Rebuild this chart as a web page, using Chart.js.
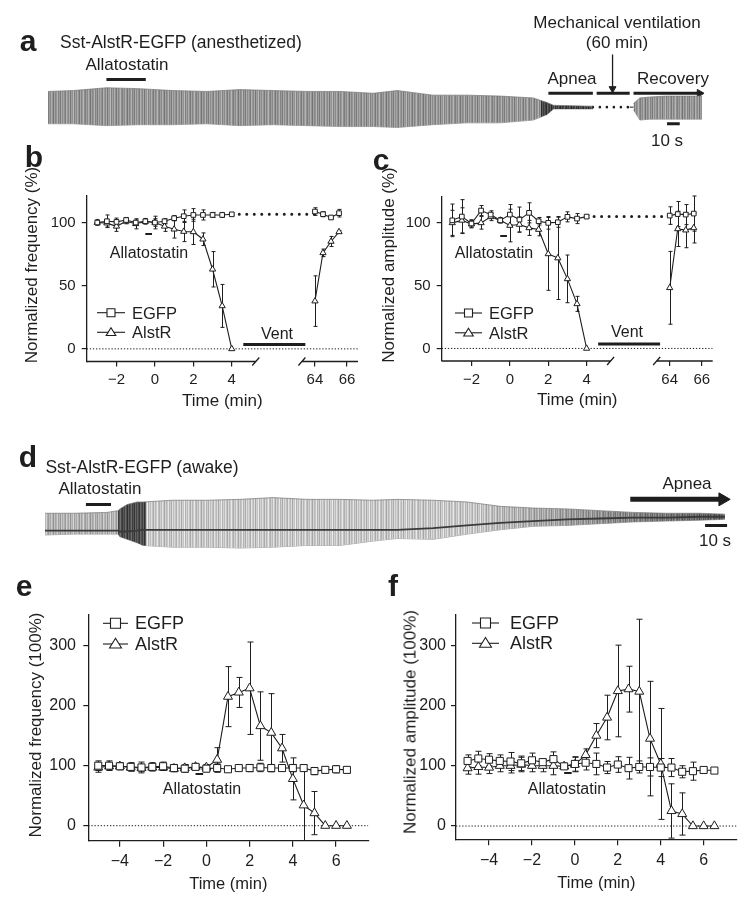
<!DOCTYPE html>
<html><head><meta charset="utf-8">
<script src="https://cdn.jsdelivr.net/npm/chart.js@4.4.1/dist/chart.umd.min.js"></script>
<style>
html,body{margin:0;padding:0;background:#fff}
body{position:relative;width:750px;height:906px;overflow:hidden;font-family:"Liberation Sans",Arial,Helvetica,sans-serif;color:#1e1e1e}
canvas{position:absolute}
.c{position:absolute;white-space:nowrap;line-height:1;transform:translate(-50%,-50%)}
.l{position:absolute;white-space:nowrap;line-height:1;transform:translate(0,-50%)}
.r{position:absolute;white-space:nowrap;line-height:1;transform:translate(-50%,-50%) rotate(-90deg)}
.p{font-weight:bold;font-size:30px}
</style></head><body>
<canvas id="cvA" width="750" height="145" style="left:0;top:0"></canvas>
<canvas id="cvB" width="375" height="300" style="left:0;top:145px"></canvas>
<canvas id="cvC" width="375" height="300" style="left:375px;top:145px"></canvas>
<canvas id="cvD" width="750" height="130" style="left:0;top:450px"></canvas>
<canvas id="cvE" width="375" height="316" style="left:0;top:590px"></canvas>
<canvas id="cvF" width="375" height="316" style="left:375px;top:590px"></canvas>

<!-- panel a texts -->
<div class="c p" style="left:28px;top:41px">a</div>
<div class="c" style="left:181px;top:43px;font-size:17.5px">Sst-AlstR-EGFP (anesthetized)</div>
<div class="c" style="left:617px;top:22px;font-size:17px">Mechanical ventilation</div>
<div class="c" style="left:617px;top:42px;font-size:17px">(60 min)</div>
<div class="c" style="left:127px;top:64px;font-size:17px">Allatostatin</div>
<div class="c" style="left:572px;top:78px;font-size:17px">Apnea</div>
<div class="c" style="left:673px;top:78px;font-size:17px">Recovery</div>
<div class="c" style="left:667px;top:140px;font-size:17px">10 s</div>
<!-- panel b texts -->
<div class="c p" style="left:34px;top:157px">b</div>
<div class="r" style="left:31px;top:265px;font-size:17px">Normalized frequency (%)</div>
<div class="c" style="left:149px;top:253px;font-size:16px">Allatostatin</div>
<div class="c" style="left:277px;top:334px;font-size:16px">Vent</div>
<div class="l" style="left:132px;top:313px;font-size:16.5px">EGFP</div>
<div class="l" style="left:132px;top:332px;font-size:16.5px">AlstR</div>
<!-- panel c texts -->
<div class="c p" style="left:381px;top:160px">c</div>
<div class="r" style="left:388px;top:265px;font-size:17px">Normalized amplitude (%)</div>
<div class="c" style="left:494px;top:253px;font-size:16px">Allatostatin</div>
<div class="c" style="left:627px;top:332px;font-size:16px">Vent</div>
<div class="l" style="left:489px;top:313px;font-size:16.5px">EGFP</div>
<div class="l" style="left:489px;top:333px;font-size:16.5px">AlstR</div>
<!-- panel d texts -->
<div class="c p" style="left:28px;top:457px">d</div>
<div class="c" style="left:142px;top:468px;font-size:17.5px">Sst-AlstR-EGFP (awake)</div>
<div class="c" style="left:100px;top:488px;font-size:17px">Allatostatin</div>
<div class="c" style="left:687px;top:483px;font-size:17px">Apnea</div>
<div class="c" style="left:715px;top:540px;font-size:17px">10 s</div>
<!-- panel e texts -->
<div class="c p" style="left:24px;top:586px">e</div>
<div class="r" style="left:35px;top:725px;font-size:17px">Normalized frequency (100%)</div>
<div class="c" style="left:202px;top:789px;font-size:16px">Allatostatin</div>
<div class="l" style="left:135px;top:623px;font-size:18px">EGFP</div>
<div class="l" style="left:135px;top:644px;font-size:18px">AlstR</div>
<!-- panel f texts -->
<div class="c p" style="left:393px;top:586px">f</div>
<div class="r" style="left:410px;top:722px;font-size:17px">Normalized amplitude (100%)</div>
<div class="c" style="left:567px;top:789px;font-size:16px">Allatostatin</div>
<div class="l" style="left:510px;top:623px;font-size:18px">EGFP</div>
<div class="l" style="left:510px;top:643px;font-size:18px">AlstR</div>

<script>
// ================= DATA =================
// Panels b, c (anesthetized): time in min
const bcTime = [-3,-2.5,-2,-1.5,-1,-0.5,0,0.5,1,1.5,2,2.5,3,3.5,4,64,64.5,65,65.5];
const bcXTicks = [-2,0,2,4,64,66];
const bcYTicks = [0,50,100];
const bEGFP    = [100,101,100.5,102,100,101,100,101,103.4,105,106,106,106,106,106.5,108.7,106.6,104,107.4];
const bEGFPErr = [2,5,3,2,2,2,5,2,2,5,5,4,2,2,1,3,2,1,3];
const bAlstR    = [100,99.5,97,101,99,100.8,100,97,94.7,92.9,92.6,86.8,63,34,0,37.8,76,85,92.6];
const bAlstRErr = [2,3,4,2,4,2,3,4,7,8,10,5,14,17,0,20,3,4,1];
const cEGFP    = [102,105,99.5,109.8,106.6,102,106.6,102.6,108,101.3,100,100.5,104.8,103.4,105,105.8,107,106.6,107.4];
const cEGFPErr = [13,13.5,3,4,3,2,8,10,8,3,5,4,4,4,1,7,10,8,14];
const cAlstR    = [100,102,99,100,104.8,102,97.9,98.7,96,94.7,75.3,72,55.4,35.5,0,48.3,95.2,94.2,96];
const cAlstRErr = [10,10,3,5,3,2,13,6,6,5,29,33,19,6,0,29,14,14,12];
const bcAllatostatin = [-0.5,-0.15];
const bcVent = [4.6,63.4];

// Panels e, f (awake)
const efTime = [-5,-4.5,-4,-3.5,-3,-2.5,-2,-1.5,-1,-0.5,0,0.5,1,1.5,2,2.5,3,3.5,4,4.5,5,5.5,6,6.5];
const efXTicks = [-4,-2,0,2,4,6];
const efYTicks = [0,100,200,300];
const eEGFP    = [100,100,99,98,97,98,99,96,95,98,95,96,94,96,96,97,96,96,96,96,91,93,94,93];
const eEGFPErr = [8,8,6,7,9,7,7,6,6,4,5,7,3,3,6,7,6,5,6,5,6,5,6,5];
const eAlstR    = [97,99,99,97,96,97,97,95,96,98,97,110,215,222,229,166,155,129,78,34,21,0,0,0];
const eAlstRErr = [8,6,5,6,5,4,5,5,6,3,5,20,50,25,77,57,65,23,35,60,36,0,0,0];
const fEGFP    = [108,112,110,108,107,104,109,106,111,99,103,105,103,97,102,96,98,98,97,97,90,91,93,92];
const fEGFPErr = [10,12,10,10,15,12,12,5,12,3,12,12,18,10,13,18,10,15,15,15,10,15,3,3];
const fAlstR    = [96,98,97,100,100,102,100,100,100,99,102,118,150,180,224,227,223,145,103,25,20,0,0,0];
const fAlstRErr = [10,12,10,10,12,12,10,10,15,3,12,10,20,37,76,38,120,95,92,45,35,0,0,0];
const efAllatostatin = [-0.5,-0.15];

// Trace a (anesthetized): time in s, signal in a.u.
const aTime  = [0,20,46,72,98,125,151,177,204,230,256,275,303,330,356,382,393,398,429];
const aUpper = [17,18,21,20,18,17,19,18,17,17,15,18,13,13,12,10,5,2,1];
const aLower = [-18,-18,-20,-19,-19,-18,-20,-19,-20,-21,-21,-22,-19,-17,-17,-14,-8,-2,-2];
const aRecTime  = [461,466,474,487,515];
const aRecUpper = [4,10,11,12,12];
const aRecLower = [-3,-14,-13,-13,-13];
const aVentGap = [429,458];
const aAllatostatin = [46,77];
const aApnea = [394,429];
const aVent = [432,458];
const aRecovery = [461,513];
const aVentOnset = 444.5;
const aScaleBar = [487.4,497.4];

// Trace d (awake)
const dTime  = [0,12.7,28.2,33.2,34,37.3,41.8,44.5,58.2,73.6,88.6,103.6,119,134,149,160,176.4,191.8,206.8,221.8,237.3,252.3,267.3,282.7,297.7,309];
const dUpper = [12,12,13,15,17,22,25,25,27,27,28,30,28,28,27,28,27,25,20,18,17,15,13,12,12,11];
const dLower = [-13,-12,-12,-12,-15,-18,-22,-25,-27,-27,-28,-27,-25,-25,-20,-17,-18,-12,-7,-3,-2,0,2,3,4,5];
const dBase  = [-8,-8,-8,-8,-9,-9,-8,-7,-7,-7,-7,-7,-7,-7,-7,-7,-5,-2,1,3,5,6,7,7,8,8];
const dAllatostatin = [18.6,30];
const dApnea = [266,308];
const dScaleBar = [300,310];

// ================= HELPERS =================
const F = '"Liberation Sans", Arial, Helvetica, sans-serif';
const INK = '#1e1e1e';
const BRK_SHIFT = 8.33, BRK_SCALE = 0.835;
const brk = t => t <= 10 ? t : BRK_SHIFT + (t - 64) * BRK_SCALE;
const fmt = t => t < 0 ? '\u2212' + Math.abs(t) : String(t);
const pts = (xs, ys, fx) => xs.map((x,i) => ({x: fx ? fx(x) : x, y: ys[i]}));

const errBars = {
  id:'errBars',
  beforeDatasetsDraw(chart, args, o){
    const {ctx, chartArea:a} = chart, ys = chart.scales.y;
    ctx.save(); ctx.beginPath(); ctx.rect(a.left-5, a.top-20, a.right-a.left+10, a.bottom-a.top+20); ctx.clip();
    ctx.strokeStyle = INK; ctx.lineWidth = 1;
    const cap = o.cap || 4;
    chart.data.datasets.forEach((ds,i) => {
      if (!ds.errors) return;
      chart.getDatasetMeta(i).data.forEach((el,j) => {
        const e = ds.errors[j]; if (!e) return;
        const v = ds.data[j].y;
        const y1 = ys.getPixelForValue(v+e), y2 = ys.getPixelForValue(v-e);
        const x = Math.round(el.x)+0.5;
        ctx.beginPath();
        ctx.moveTo(x,y1); ctx.lineTo(x,y2);
        ctx.moveTo(x-cap/2,y1); ctx.lineTo(x+cap/2,y1);
        ctx.moveTo(x-cap/2,y2); ctx.lineTo(x+cap/2,y2);
        ctx.stroke();
      });
    });
    ctx.restore();
  }
};
const brokenAxis = {
  id:'brokenAxis',
  afterDatasetsDraw(chart, args, o){
    if (o.from === undefined) return;
    const xs = chart.scales.x, y = chart.chartArea.bottom, ctx = chart.ctx;
    const p1 = xs.getPixelForValue(o.from), p2 = xs.getPixelForValue(o.to);
    ctx.save(); ctx.strokeStyle = INK; ctx.lineWidth = 1.3;
    ctx.beginPath();
    ctx.moveTo(xs.left,y); ctx.lineTo(p1,y);
    ctx.moveTo(p2,y); ctx.lineTo(xs.right,y);
    ctx.moveTo(p1-3.5,y+4); ctx.lineTo(p1+3.5,y-4);
    ctx.moveTo(p2-3.5,y+4); ctx.lineTo(p2+3.5,y-4);
    ctx.stroke(); ctx.restore();
  }
};
const legendSym = {
  id:'legendSym',
  afterDraw(chart, args, o){
    if (!o.items) return;
    const ctx = chart.ctx;
    o.items.forEach(it => {
      ctx.save(); ctx.strokeStyle = INK; ctx.lineWidth = 1.1;
      ctx.beginPath(); ctx.moveTo(it.x1,it.y); ctx.lineTo(it.x2,it.y); ctx.stroke();
      const cx = (it.x1+it.x2)/2, r = it.r;
      ctx.fillStyle = '#fff'; ctx.beginPath();
      if (it.shape === 'rect') ctx.rect(cx-r, it.y-r, 2*r, 2*r);
      else { ctx.moveTo(cx, it.y-r*1.15); ctx.lineTo(cx+r*1.2, it.y+r*0.8); ctx.lineTo(cx-r*1.2, it.y+r*0.8); ctx.closePath(); }
      ctx.fill(); ctx.stroke(); ctx.restore();
    });
  }
};
Chart.register(errBars, brokenAxis, legendSym);

const gapSeg = {borderColor: c => (c.p0.parsed.x < 5 && c.p1.parsed.x > 5) ? 'rgba(0,0,0,0)' : undefined};
function series(label, data, errors, style, r){
  return {label, data, errors, pointStyle: style, pointRadius: r, pointBackgroundColor:'#fff',
    pointBorderColor: INK, pointBorderWidth: 1, borderColor: INK, borderWidth: 1.1, segment: gapSeg};
}
function plain(data, extra){
  return Object.assign({data, borderColor: INK, borderWidth: 1, pointRadius: 0, fill: false}, extra);
}

// ================= PANELS b, c =================
function bcChart(id, egfp, egfpErr, alstr, alstrErr, g){
  const X_MIN = -3.55, X_MAX = 10.57;
  new Chart(document.getElementById(id), {
    type:'line',
    data:{datasets:[
      series('EGFP', pts(bcTime, egfp, brk), egfpErr, 'rect', 3.3),
      series('AlstR', pts(bcTime, alstr, brk), alstrErr, 'triangle', 3.6),
      plain([{x:brk(4), y:egfp[14]}, {x:brk(64), y:egfp[14]}], {borderWidth:3, borderDash:[0,7.5], borderCapStyle:'round'}),
      plain(bcAllatostatin.map(t => ({x:t, y:g.allaY})), {borderWidth:2}),
      plain(bcVent.map(t => ({x:brk(t), y:3.5})), {borderWidth:3}),
      plain([{x:X_MIN, y:0}, {x:X_MAX, y:0}], {borderWidth:1, borderDash:[1.3,1.8]})
    ]},
    options:{
      responsive:false, animation:false, events:[], devicePixelRatio:1,
      layout:{padding:{left:0, top:g.top, right:g.right, bottom:g.bottom}},
      scales:{
        x:{type:'linear', min:X_MIN, max:X_MAX,
          afterFit: s => { s.height = 60; },
          afterBuildTicks: s => { s.ticks = bcXTicks.map(t => ({value: brk(t)})); },
          ticks:{font:{size:15, family:F}, color:INK, padding:4.5, maxRotation:0, autoSkip:false,
                 callback:(v,i) => fmt(bcXTicks[i])},
          grid:{drawOnChartArea:false, color:INK, lineWidth:1.2, tickLength:5},
          border:{display:false},
          title:{display:true, text:'Time (min)', font:{size:17, family:F}, color:INK, padding:{top:0, bottom:10}}},
        y:{type:'linear', min:-10, max:121,
          afterFit: s => { s.width = g.yw; },
          afterBuildTicks: s => { s.ticks = bcYTicks.map(v => ({value:v})); },
          ticks:{font:{size:15, family:F}, color:INK, padding:6},
          grid:{drawOnChartArea:false, color:INK, lineWidth:1.2, tickLength:5},
          border:{display:true, color:INK, width:1.3}}
      },
      plugins:{legend:{display:false}, tooltip:{enabled:false},
        errBars:{cap:4}, brokenAxis:{from:5.25, to:7.65},
        legendSym:{items:g.legend}}
    }
  });
}
bcChart('cvB', bEGFP, bEGFPErr, bAlstR, bAlstRErr,
  {top:51, right:17, bottom:23.5, yw:86.7, allaY:91,
   legend:[{x1:97, x2:125, y:167.7, r:4, shape:'rect'}, {x1:97, x2:125, y:187.3, r:4, shape:'tri'}]});
bcChart('cvC', cEGFP, cEGFPErr, cAlstR, cAlstRErr,
  {top:51.5, right:37.3, bottom:24, yw:66.7, allaY:89.5,
   legend:[{x1:80, x2:107, y:168, r:4, shape:'rect'}, {x1:80, x2:107, y:187.8, r:4, shape:'tri'}]});

// ================= PANELS e, f =================
function efChart(id, egfp, egfpErr, alstr, alstrErr, g){
  new Chart(document.getElementById(id), {
    type:'line',
    data:{datasets:[
      series('EGFP', pts(efTime, egfp), egfpErr, 'rect', 5),
      series('AlstR', pts(efTime, alstr), alstrErr, 'triangle', 5.2),
      plain(efAllatostatin.map(t => ({x:t, y:g.allaY})), {borderWidth:2}),
      plain([{x:g.xmin, y:0}, {x:g.xmax, y:0}], {borderWidth:1, borderDash:[1.3,1.8]})
    ]},
    options:{
      responsive:false, animation:false, events:[], devicePixelRatio:1,
      layout:{padding:{left:0, top:25, right:g.right, bottom:g.bottom}},
      scales:{
        x:{type:'linear', min:g.xmin, max:g.xmax,
          afterFit: s => { s.height = 60; },
          afterBuildTicks: s => { s.ticks = efXTicks.map(t => ({value:t})); },
          ticks:{font:{size:16, family:F}, color:INK, padding:5.4, maxRotation:0, autoSkip:false,
                 callback:(v,i) => fmt(efXTicks[i])},
          grid:{drawOnChartArea:false, color:INK, lineWidth:1.2, tickLength:6},
          border:{display:true, color:INK, width:1.3},
          title:{display:true, text:'Time (min)', font:{size:16.5, family:F}, color:INK, padding:{top:0, bottom:6}}},
        y:{type:'linear', min:g.ymin, max:g.ymax,
          afterFit: s => { s.width = g.yw; },
          afterBuildTicks: s => { s.ticks = efYTicks.map(v => ({value:v})); },
          ticks:{font:{size:16, family:F}, color:INK, padding:g.yp},
          grid:{drawOnChartArea:false, color:INK, lineWidth:1.2, tickLength:5},
          border:{display:true, color:INK, width:1.3}}
      },
      plugins:{legend:{display:false}, tooltip:{enabled:false},
        errBars:{cap:6}, legendSym:{items:g.legend}}
    }
  });
}
efChart('cvE', eEGFP, eEGFPErr, eAlstR, eAlstRErr,
  {right:6.7, bottom:5.3, yw:88.3, yp:7.3, xmin:-5.46, xmax:7.49, ymin:-25, ymax:351, allaY:86,
   legend:[{x1:103, x2:128, y:33.3, r:5, shape:'rect'}, {x1:103, x2:128, y:54, r:5, shape:'tri'}]});
efChart('cvF', fEGFP, fEGFPErr, fAlstR, fAlstRErr,
  {right:13.3, bottom:6.7, yw:81, yp:5, xmin:-5.54, xmax:7.54, ymin:-22, ymax:350, allaY:88,
   legend:[{x1:97, x2:124, y:33, r:5, shape:'rect'}, {x1:97, x2:124, y:53.3, r:5, shape:'tri'}]});

// ================= TRACES a, d =================
// fixed, non-periodic-looking stripe texture (style only)
const STRIPES = [0,34,10,46,18,-8,40,4,26,54,14,-2,30,8,48,22,-12,36,6,20,52,2,28,-6,44,12,38,16,-4,50,24,8,42,-10,32,18,58];
function tracePattern(id, baseFn){
  const c = document.createElement('canvas'); c.width = 750; c.height = 1;
  const g = c.getContext('2d');
  for (let x = 0; x < 750; x++){
    const v = Math.max(0, Math.min(255, Math.round(baseFn(x) + STRIPES[x % STRIPES.length] - 22)));
    g.fillStyle = `rgb(${v},${v},${v})`; g.fillRect(x,0,1,1);
  }
  return document.getElementById(id).getContext('2d').createPattern(c,'repeat');
}
function bandSets(xs, up, lo, pat){
  return [
    {data: pts(xs, up), fill:'+1', backgroundColor: pat, borderColor:'#777', borderWidth:0.7, pointRadius:0},
    {data: pts(xs, lo), fill:false, borderColor:'#888', borderWidth:0.7, pointRadius:0}
  ];
}
function arrow(x0, x1, y, w, r, rot, vertical){
  const d = vertical ? [{x:x0, y:x1}, {x:x0, y:y}] : [{x:x0, y}, {x:x1, y}];
  return {data:d, borderColor:INK, borderWidth:w, pointRadius:[0,r], pointStyle:'triangle',
          pointRotation:rot, pointBackgroundColor:INK, pointBorderColor:INK, pointBorderWidth:1, fill:false};
}
function traceOpts(padL, padR, xmax, ymin, ymax){
  return {responsive:false, animation:false, events:[], devicePixelRatio:1,
    layout:{padding:{left:padL, right:padR, top:0, bottom:0}},
    scales:{x:{type:'linear', display:false, min:0, max:xmax}, y:{type:'linear', display:false, min:ymin, max:ymax}},
    plugins:{legend:{display:false}, tooltip:{enabled:false}}};
}

const patA = tracePattern('cvA', x => (x > 540 && x < 600) ? 70 : 150);
new Chart(document.getElementById('cvA'), {
  type:'line',
  data:{datasets:[
    ...bandSets(aTime, aUpper, aLower, patA),
    ...bandSets(aRecTime, aRecUpper, aRecLower, patA),
    plain(aVentGap.map(t => ({x:t, y:0})), {borderWidth:2.6, borderDash:[0,7], borderCapStyle:'round'}),
    plain([{x:aVentGap[1], y:0}, {x:aRecTime[0], y:0}], {borderWidth:1}),
    plain(aAllatostatin.map(t => ({x:t, y:30})), {borderWidth:3}),
    plain(aApnea.map(t => ({x:t, y:15})), {borderWidth:3}),
    plain(aVent.map(t => ({x:t, y:15})), {borderWidth:3}),
    arrow(aRecovery[0], aRecovery[1], 15, 3, 4.5, 90, false),
    arrow(aVentOnset, 57, 20, 1.3, 4, 180, true),
    plain(aScaleBar.map(t => ({x:t, y:-18})), {borderWidth:3})
  ]},
  options: traceOpts(48, 38, 522.8, -35, 110)
});

const patD = tracePattern('cvD', x => x < 118 ? 180 : (x < 146 ? 80 : (x < 470 ? 200 : 200 - (x-470)/255*105)));
new Chart(document.getElementById('cvD'), {
  type:'line',
  data:{datasets:[
    plain(pts(dTime, dBase), {borderColor:'#3a3a3a', borderWidth:1.8}),
    ...bandSets(dTime, dUpper, dLower, patD),
    plain(dAllatostatin.map(t => ({x:t, y:22})), {borderWidth:3}),
    arrow(dApnea[0], dApnea[1], 28, 5, 7.5, 90, false),
    plain(dScaleBar.map(t => ({x:t, y:-2})), {borderWidth:3})
  ]},
  options: traceOpts(45, 15, 313.6, -55, 75)
});
</script>
</body></html>
